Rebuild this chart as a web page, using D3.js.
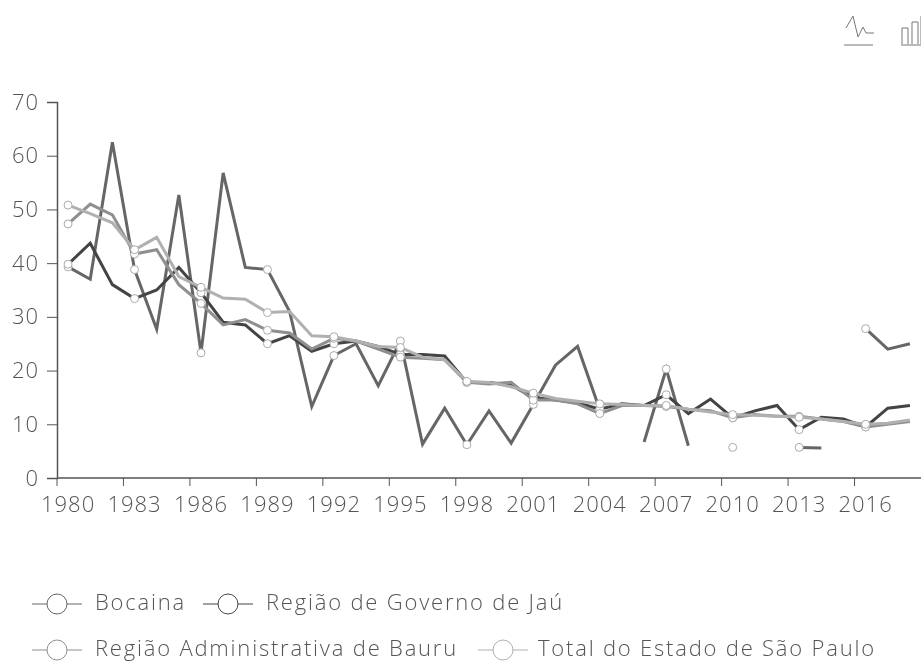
<!DOCTYPE html>
<html>
<head>
<meta charset="utf-8">
<style>
  html, body { margin: 0; padding: 0; background: #fff; overflow: hidden; }
  svg { display: block; filter: blur(0.6px); }
  text { font-family: "Open Sans", "Noto Sans", sans-serif; font-weight: 300; fill: #555; font-size: 22px; }
</style>
<script src="https://cdn.jsdelivr.net/npm/d3@7"></script>
</head>
<body>
<div id="chart"></div>
<script>
var years = [1980,1981,1982,1983,1984,1985,1986,1987,1988,1989,1990,1991,1992,1993,1994,1995,1996,1997,1998,1999,2000,2001,2002,2003,2004,2005,2006,2007,2008,2009,2010,2011,2012,2013,2014,2015,2016,2017,2018];
var yTicks = [0,10,20,30,40,50,60,70];

var bocaina = [39.3,37,62.5,38.8,27.7,52.7,23.3,56.8,39.2,38.8,31,13.3,22.8,25,17.2,25.5,6.3,13,6.2,12.5,6.5,13.7,21,24.5,12.7,null,6.7,20.3,6,null,5.7,null,null,5.7,5.6,null,27.8,24,25];
var governo = [39.8,43.7,36,33.4,35,39.2,34.5,29,28.5,25,26.5,23.6,25,25.5,24.5,23,23,22.7,17.8,17.8,17.3,15,14.5,14,12.8,13.8,13.5,15.5,12,14.7,11.2,12.5,13.5,9,11.3,11,9.5,13,13.5];
var bauru = [47.3,51,49,41.7,42.5,36,32.5,28.5,29.5,27.5,27,24,26,25.5,24,22.5,22.3,22,17.8,17.5,17.8,14.5,14.5,13.8,12,13.5,13.5,13.3,12.8,12.5,11.2,11.8,11.5,11.5,11,10.5,9.5,10,10.5];
var total = [50.8,49.2,47.5,42.5,44.8,37.5,35.5,33.5,33.3,30.8,31,26.5,26.3,25.5,24.5,24.3,22.5,22,18,17.8,17,15.8,14.8,14.3,13.8,13.7,13.5,13.5,12.8,12.3,11.8,11.7,11.5,11.3,11,10.5,10,10.2,10.8];

var seriesNames = ["Bocaina", "Região de Governo de Jaú", "Região Administrativa de Bauru", "Total do Estado de São Paulo"];
var seriesValues = [bocaina, governo, bauru, total];
var seriesColors = ["#666", "#444", "#8f8f8f", "#b0b0b0"];

var w = 921, h = 661;
var plotLeft = 57, plotRight = 921, plotTop = 102, plotBottom = 478;

var svg = d3.select("#chart").append("svg").attr("width", w).attr("height", h);

var x = d3.scaleBand().domain(years).range([plotLeft, plotRight]);
var y = d3.scaleLinear().domain([0, 70]).range([plotBottom, plotTop]);

var yAxis = d3.axisLeft(y).tickValues(yTicks).tickSize(10).tickPadding(8);
var gy = svg.append("g").attr("transform", "translate(" + plotLeft + ",0)").call(yAxis);
gy.attr("font-family", null).attr("font-size", null);
gy.select(".domain").attr("stroke", "#555").attr("stroke-width", 1.5);
gy.selectAll(".tick line").attr("stroke", "#555");
gy.selectAll("text").style("letter-spacing", "1px");

// axis ticks sit on the band edges, labels in the middle
var labelYears = years.filter(function(d, i) { return i % 3 === 0; });
var gx = svg.append("g").attr("transform", "translate(0," + plotBottom + ")");
gx.append("line").attr("x1", plotLeft).attr("x2", plotRight).attr("stroke", "#555").attr("stroke-width", 1.5);
gx.selectAll("line.t").data(labelYears).enter().append("line")
  .attr("class", "t")
  .attr("x1", function(d) { return x(d); })
  .attr("x2", function(d) { return x(d); })
  .attr("y2", 8)
  .attr("stroke", "#555");
gx.selectAll("text").data(labelYears).enter().append("text")
  .attr("x", function(d) { return x(d) + x.bandwidth() / 2; })
  .attr("y", 34)
  .attr("text-anchor", "middle")
  .style("letter-spacing", "1px")
  .text(function(d) { return d; });

var line = d3.line()
  .defined(function(d) { return d != null; })
  .x(function(d, i) { return x(years[i]) + x.bandwidth() / 2; })
  .y(function(d) { return y(d); });

seriesValues.forEach(function(vals, s) {
  svg.append("path")
     .attr("d", line(vals))
     .attr("fill", "none")
     .attr("stroke", seriesColors[s])
     .attr("stroke-width", 3);
});

// markers only on the labelled years
seriesValues.forEach(function(vals, s) {
  svg.selectAll("circle.s" + s)
     .data(vals.map(function(v, i) { return {v: v, i: i}; }).filter(function(d) { return d.v != null && d.i % 3 === 0; }))
     .enter()
     .append("circle")
     .attr("class", "s" + s)
     .attr("cx", function(d) { return x(years[d.i]) + x.bandwidth() / 2; })
     .attr("cy", function(d) { return y(d.v); })
     .attr("r", 4)
     .attr("fill", "#fff")
     .attr("stroke", "#aaa")
     .attr("stroke-width", 1);
});

// legend
var legendPos = [[32, 604], [203, 604], [32, 650], [478, 650]];
var lg = svg.selectAll("g.lg").data(seriesNames).enter().append("g")
  .attr("class", "lg")
  .attr("transform", function(d, i) { return "translate(" + legendPos[i][0] + "," + legendPos[i][1] + ")"; });
lg.append("line").attr("x2", 50).attr("stroke", function(d, i) { return seriesColors[i]; });
lg.append("circle").attr("cx", 25).attr("r", 10).attr("fill", "#fff")
  .attr("stroke", function(d, i) { return seriesColors[i]; });
lg.append("text").attr("x", function(d, i) { return i === 3 ? 60 : 63; }).attr("y", 6)
  .style("letter-spacing", "1.8px").text(function(d) { return d; });

// toolbox icons, top right
var tb = svg.append("g").attr("fill", "none").attr("stroke", "#777");
tb.append("path").attr("d", "M846 28 L853 16 L858 37 L863 27 L866 33 L874 33");
tb.append("path").attr("d", "M844 45 H873");
tb.append("path").attr("d", "M902 44 V28 H908 V44 M912 44 V22 H918 V44 M921 44 V16");
tb.append("path").attr("d", "M901 45 H921");
</script>
</body>
</html>
